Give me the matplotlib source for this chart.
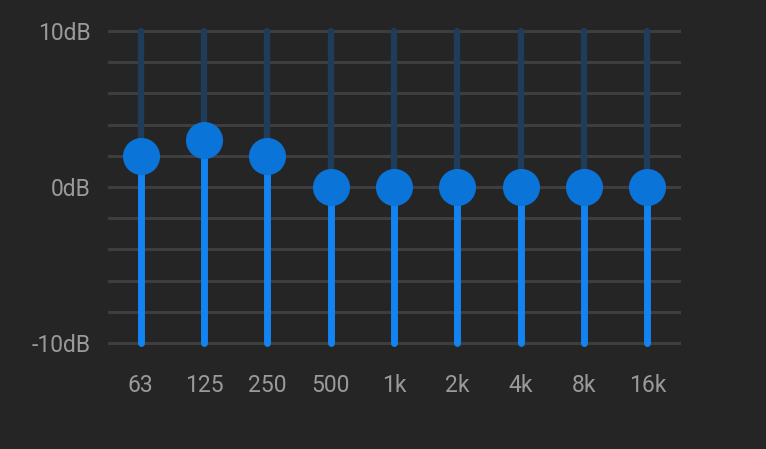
import matplotlib
matplotlib.use('Agg')
import matplotlib.pyplot as plt
import numpy as np

bands = ['63', '125', '250', '500', '1k', '2k', '4k', '8k', '16k']
gains = [2, 3, 2, 0, 0, 0, 0, 0, 0]
ytick_vals = [-10, 0, 10]
ytick_labels = ['-10dB', '0dB', '10dB']
grid_vals = np.arange(-10, 10.1, 2)

bg = '#252525'
grid_col = '#3e3e3e'
bar_col = '#1283f0'
dim_col = '#1f3d5a'
knob_col = '#0a74d8'
txt_col = '#9a9a9a'

plt.rcParams['font.family'] = ['Roboto', 'DejaVu Sans']

fig = plt.figure(figsize=(7.66, 4.49), dpi=100, facecolor=bg)
ax = fig.add_axes([109 / 766, 106 / 449, 570 / 766, 312 / 449])
ax.set_facecolor(bg)

x = np.arange(len(bands))

# horizontal grid
for g in grid_vals:
  ax.axhline(g, color=grid_col, linewidth=2.2, zorder=1, clip_on=False)

# sliders
for xi, v in zip(x, gains):
  ax.plot([xi, xi], [v, 10], color=dim_col, linewidth=4.5, solid_capstyle='round',
          zorder=2, clip_on=False)
  ax.plot([xi, xi], [-10, v], color=bar_col, linewidth=5, solid_capstyle='round',
          zorder=3, clip_on=False)
ax.scatter(x, gains, s=36 ** 2 * 0.55, color=knob_col, zorder=4, clip_on=False,
           linewidths=0)

ax.set_xlim(-0.5, len(bands) - 0.5)
ax.set_ylim(-10, 10)
ax.set_xticks(x)
ax.set_xticklabels(bands)
ax.set_yticks(ytick_vals)
ax.set_yticklabels(ytick_labels)
ax.tick_params(length=0, labelsize=16.5, colors=txt_col)
ax.tick_params(axis='x', pad=22)
ax.tick_params(axis='y', pad=13)
for s in ax.spines.values():
  s.set_visible(False)

plt.savefig('out.png', dpi=100, facecolor=bg)
